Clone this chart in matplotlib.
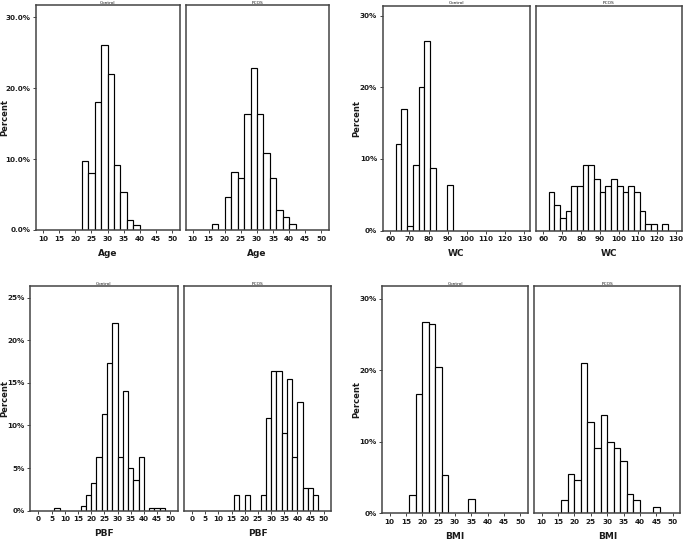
import numpy as np
import matplotlib
matplotlib.use("Agg")
import matplotlib.pyplot as plt
from matplotlib.ticker import FuncFormatter

# bin percentages (bin start, bin width, values)
age_start, age_width = 16, 2
age_control = [0, 0, 0, 9.7, 8.1, 18.0, 26.0, 22.0, 9.1, 5.4, 1.4, 0.7]
age_pcos = [0.9, 0, 4.6, 8.2, 7.3, 16.4, 22.8, 16.4, 10.9, 7.3, 2.8, 1.8, 0.9]

wc_start, wc_width = 62.8, 3
wc_control = [12.1, 17.0, 0.7, 9.1, 20.0, 26.4, 8.7, 0, 0, 6.4]
wc_pcos = [5.4, 3.6, 1.8, 2.75, 6.3, 6.3, 9.1, 9.1, 7.2, 5.4, 6.3, 7.2, 6.3,
           5.4, 6.3, 5.4, 2.75, 0.9, 0.9, 0, 0.9]

pbf_start, pbf_width = 6, 2
pbf_control = [0.3, 0, 0, 0, 0, 0.6, 1.8, 3.3, 6.3, 11.3, 17.3, 22.0, 6.3,
               14.0, 5.0, 3.6, 6.3, 0, 0.3, 0.3, 0.3]
pbf_pcos = [0, 0, 0, 0, 0, 1.8, 0, 1.8, 0, 0, 1.8, 10.9, 16.4, 16.4, 9.1,
            15.5, 6.3, 12.7, 2.7, 2.7, 1.8]

bmi_start, bmi_width = 16, 2
bmi_control = [2.6, 16.7, 26.7, 26.4, 20.4, 5.4, 0, 0, 0, 1.95]
bmi_pcos = [1.9, 5.5, 4.6, 21.0, 12.8, 9.1, 13.7, 10.0, 9.1, 7.3, 2.7, 1.9,
            0, 0, 0.9]

groups = ["Control", "PCOS"]

W, H = 685, 543
fig = plt.figure(figsize=(W / 100, H / 100), dpi=100)
fig.patch.set_facecolor("white")

frame = "#444444"
ink = "#1a1a1a"


def px_axes(l, r, t, b):
    return fig.add_axes([l / W, 1 - b / H, (r - l) / W, (b - t) / H])


def hist_panel(ax, start, width, vals, xlim, xticks, ylim, yticks, fmt,
               title, xlabel, show_y):
    vals = np.array(vals, dtype=float)
    lefts = start + width * np.arange(len(vals))
    keep = vals > 0
    ax.bar(lefts[keep], vals[keep], width=width, align="edge",
           facecolor="white", edgecolor="black", linewidth=0.85, zorder=2)
    ax.set_xlim(*xlim)
    ax.set_ylim(*ylim)
    ax.set_xticks(xticks)
    ax.set_yticks(yticks)
    ax.yaxis.set_major_formatter(FuncFormatter(lambda v, p: fmt.format(v)))
    for s in ax.spines.values():
        s.set_color(frame)
        s.set_linewidth(1.1)
    ax.tick_params(axis="both", direction="out", length=2.5, width=0.7,
                   color=frame, labelsize=5.2, pad=1.5, labelcolor=ink)
    for lab in ax.get_xticklabels() + ax.get_yticklabels():
        lab.set_fontweight("bold")
    if not show_y:
        ax.tick_params(axis="y", left=False, labelleft=False)
    ax.set_title(title, fontsize=3.2, pad=0.6, color=ink)
    ax.set_xlabel(xlabel, fontsize=6.5, fontweight="bold", labelpad=5,
                  color=ink)


panels = [
    # (data pair, start, width, boxes, xlim, xticks, ylim, yticks, fmt, xlabel, ylabel right edge px)
    ((age_control, age_pcos), age_start, age_width,
     [(36, 179.5, 5, 230), (185.6, 328.7, 5, 230)],
     (7.8, 52.3), np.arange(10, 51, 5), (0, 31.7), [0, 10, 20, 30],
     "{:.1f}%", "Age", 9),
    ((wc_control, wc_pcos), wc_start, wc_width,
     [(382.7, 530, 5.5, 230.7), (535.7, 681.7, 5.5, 230.7)],
     (56, 133), np.arange(60, 131, 10), (0, 31.4), [0, 10, 20, 30],
     "{:.0f}%", "WC", 361),
    ((pbf_control, pbf_pcos), pbf_start, pbf_width,
     [(30.3, 177.7, 285.7, 510.7), (184, 331, 285.7, 510.7)],
     (-3.1, 52.8), np.arange(0, 51, 5), (0, 26.4), [0, 5, 10, 15, 20, 25],
     "{:.0f}%", "PBF", 9),
    ((bmi_control, bmi_pcos), bmi_start, bmi_width,
     [(382.3, 528, 285.7, 513.3), (534.3, 680.3, 285.7, 513.3)],
     (7.8, 52.3), np.arange(10, 51, 5), (0, 31.8), [0, 10, 20, 30],
     "{:.0f}%", "BMI", 361),
]

for data, start, width, boxes, xlim, xticks, ylim, yticks, fmt, xlabel, ylx in panels:
    for i, (vals, box, grp) in enumerate(zip(data, boxes, groups)):
        ax = px_axes(*box)
        hist_panel(ax, start, width, vals, xlim, xticks, ylim, yticks, fmt,
                   grp, xlabel, show_y=(i == 0))
        if i == 0:
            l, r, t, b = box
            ax.set_ylabel("Percent", fontsize=6, fontweight="bold",
                          color=ink)
            ax.yaxis.set_label_coords((ylx - l) / (r - l), 0.5)

fig.savefig("out.png", dpi=100, facecolor="white")
